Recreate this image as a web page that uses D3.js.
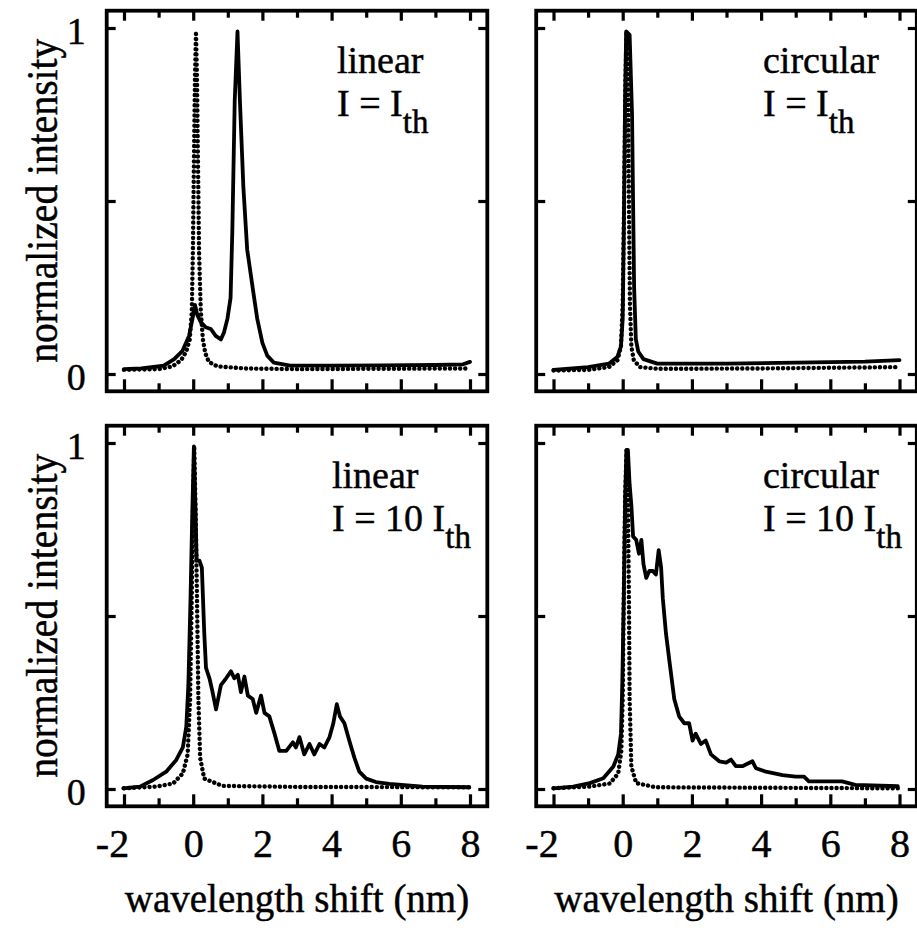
<!DOCTYPE html>
<html><head><meta charset="utf-8">
<script src="https://cdn.jsdelivr.net/npm/d3@7"></script>
<style>
html,body{margin:0;padding:0;background:#fff;}
svg{display:block;}
text{font-family:"Liberation Serif","Times New Roman",serif;fill:#000;stroke:#000;stroke-width:0.45px;}
</style></head><body>
<svg id="chart" width="917" height="941"></svg>
<script>
// ---------- data ----------
const xMajorTicks = [-2, 0, 2, 4, 6, 8];
const xMinorTicks = [-1, 1, 3, 5, 7];
const yTicks = [0, 0.5, 1];
const yTickLabels = ["0", "", "1"];
const xTitle = "wavelength shift (nm)";
const yTitle = "normalized intensity";
const polarizations = ["linear", "circular", "linear", "circular"];
const currents = ["I = I", "I = I", "I = 10 I", "I = 10 I"];
const currentSub = "th";

// linear polarization, I = Ith
const linIth_solid = [[-2.0,0.014],[-1.5,0.016],[-0.85,0.024],[-0.55,0.043],[-0.31,0.067],[-0.12,0.11],[-0.02,0.16],[0.05,0.20],[0.12,0.17],[0.22,0.15],[0.36,0.135],[0.51,0.13],[0.65,0.11],[0.8,0.10],[0.89,0.12],[0.99,0.16],[1.08,0.22],[1.13,0.41],[1.2,0.79],[1.28,0.99],[1.35,0.79],[1.45,0.54],[1.56,0.36],[1.71,0.255],[1.85,0.16],[2.0,0.09],[2.14,0.053],[2.33,0.033],[2.8,0.024],[4,0.024],[5.5,0.025],[7,0.026],[7.8,0.028],[8.0,0.035]];
const linIth_dotted = [[-2.0,0.012],[-1.0,0.014],[-0.6,0.022],[-0.35,0.04],[-0.2,0.065],[-0.1,0.1],[-0.04,0.18],[-0.01,0.35],[0.02,0.6],[0.05,0.85],[0.08,0.99],[0.11,0.85],[0.14,0.6],[0.17,0.35],[0.22,0.18],[0.28,0.1],[0.35,0.06],[0.45,0.035],[0.7,0.022],[1.5,0.016],[3,0.014],[5,0.015],[8,0.016]];

// circular polarization, I = Ith
const circIth_solid = [[-2,0.012],[-1,0.02],[-0.4,0.03],[-0.15,0.05],[-0.05,0.08],[0.0,0.16],[0.03,0.4],[0.07,0.8],[0.1,0.99],[0.2,0.98],[0.27,0.75],[0.3,0.5],[0.33,0.25],[0.38,0.1],[0.45,0.065],[0.6,0.043],[1,0.03],[3,0.03],[5,0.033],[7,0.036],[8,0.04]];
const circIth_dotted = [[-2,0.01],[-1,0.012],[-0.4,0.02],[-0.15,0.04],[-0.05,0.08],[0.0,0.2],[0.04,0.5],[0.08,0.85],[0.11,0.99],[0.15,0.85],[0.18,0.5],[0.21,0.2],[0.25,0.08],[0.32,0.04],[0.5,0.02],[1,0.015],[4,0.016],[8,0.02]];

// linear polarization, I = 10 Ith
const lin10_solid = [[-2.02,0.002],[-1.54,0.007],[-1.16,0.026],[-0.78,0.05],[-0.49,0.084],[-0.3,0.12],[-0.2,0.18],[-0.14,0.3],[-0.08,0.54],[-0.03,0.78],[0.02,0.99],[0.06,0.83],[0.1,0.66],[0.18,0.66],[0.25,0.64],[0.32,0.45],[0.37,0.35],[0.47,0.32],[0.56,0.28],[0.66,0.23],[0.8,0.3],[0.95,0.32],[1.09,0.34],[1.19,0.32],[1.29,0.33],[1.38,0.28],[1.48,0.325],[1.58,0.27],[1.72,0.26],[1.82,0.22],[1.96,0.27],[2.06,0.22],[2.2,0.21],[2.35,0.16],[2.49,0.11],[2.69,0.11],[2.88,0.135],[2.97,0.12],[3.07,0.15],[3.21,0.1],[3.36,0.13],[3.5,0.1],[3.65,0.13],[3.79,0.12],[3.94,0.15],[4.05,0.19],[4.15,0.245],[4.24,0.21],[4.37,0.19],[4.51,0.14],[4.66,0.09],[4.8,0.05],[5.0,0.03],[5.28,0.02],[5.67,0.015],[6.63,0.007],[7.98,0.005]];
const lin10_dotted = [[-2,0.002],[-1.06,0.007],[-0.58,0.016],[-0.3,0.045],[-0.16,0.1],[-0.09,0.26],[-0.05,0.5],[-0.01,0.8],[0.03,0.99],[0.07,0.8],[0.11,0.55],[0.15,0.26],[0.2,0.09],[0.32,0.03],[0.84,0.009],[3,0.006],[8,0.005]];

// circular polarization, I = 10 Ith
const circ10_solid = [[-2.0,0.002],[-1.43,0.007],[-0.95,0.017],[-0.56,0.031],[-0.27,0.065],[-0.13,0.1],[-0.05,0.16],[-0.01,0.31],[0.03,0.55],[0.07,0.84],[0.11,0.98],[0.15,0.98],[0.2,0.88],[0.25,0.82],[0.3,0.73],[0.39,0.72],[0.47,0.68],[0.54,0.72],[0.6,0.65],[0.68,0.61],[0.77,0.63],[0.87,0.63],[0.96,0.62],[1.04,0.69],[1.11,0.64],[1.16,0.55],[1.25,0.45],[1.35,0.37],[1.49,0.26],[1.63,0.21],[1.78,0.19],[1.92,0.19],[2.02,0.14],[2.11,0.16],[2.26,0.13],[2.4,0.14],[2.55,0.1],[2.79,0.08],[2.99,0.076],[3.13,0.085],[3.27,0.066],[3.46,0.066],[3.75,0.08],[3.85,0.06],[4.14,0.05],[4.62,0.04],[5.0,0.036],[5.24,0.036],[5.38,0.022],[5.77,0.022],[6.34,0.022],[6.72,0.012],[7.95,0.008]];
const circ10_dotted = [[-2.0,0.002],[-0.95,0.007],[-0.37,0.016],[-0.13,0.045],[-0.04,0.11],[0.0,0.26],[0.03,0.55],[0.07,0.84],[0.11,0.98],[0.15,0.84],[0.18,0.55],[0.2,0.26],[0.25,0.065],[0.39,0.017],[0.96,0.005],[7.95,0.002]];

const solidSeries = [linIth_solid, circIth_solid, lin10_solid, circ10_solid];
const dottedSeries = [linIth_dotted, circIth_dotted, lin10_dotted, circ10_dotted];

// ---------- layout ----------
const svg = d3.select("#chart");
const PW = 380.6, PH = 380.6;
const panelPos = [[106.7, 10.7], [536.2, 10.7], [106.7, 425.7], [536.2, 425.7]];
const annPos = [[337, 73], [763, 73], [332, 488], [763, 488]];
const SW = 3.8;

const x = d3.scaleLinear().domain([-2.5, 8.5]).range([0, PW]);
const y = d3.scaleLinear().domain([-0.05, 1.05]).range([PH, 0]);
const line = d3.line().x(d => x(d[0])).y(d => y(d[1]));

panelPos.forEach((p, i) => {
  const g = svg.append("g").attr("transform", `translate(${p[0]},${p[1]})`);
  const isBottom = i >= 2, isLeft = i % 2 === 0;

  // curves
  g.append("path").attr("d", line(dottedSeries[i]))
    .attr("fill", "none").attr("stroke", "#000").attr("stroke-width", 4.4)
    .attr("stroke-linecap", "round").attr("stroke-dasharray", "0.1 5");
  g.append("path").attr("d", line(solidSeries[i]))
    .attr("fill", "none").attr("stroke", "#000").attr("stroke-width", SW)
    .attr("stroke-linejoin", "round").attr("stroke-linecap", "round");

  // axes (inward ticks)
  const style = sel => {
    sel.select(".domain").remove();
    sel.selectAll(".tick line").attr("stroke", "#000").attr("stroke-width", 3.2);
  };
  g.append("g").attr("transform", `translate(0,${PH})`)
    .call(d3.axisBottom(x).tickValues(xMajorTicks).tickSize(-12).tickPadding(22)
      .tickFormat(d => isBottom ? String(d) : ""))
    .call(style)
    .call(s => s.selectAll("text").attr("font-size", 40)
      .attr("font-family", "Liberation Serif, Times New Roman, serif")
      .attr("dx", d => d < 0 ? "-0.3em" : 0));
  g.append("g").attr("transform", `translate(0,${PH})`)
    .call(d3.axisBottom(x).tickValues(xMinorTicks).tickSize(-8).tickFormat(""))
    .call(style);
  g.append("g")
    .call(d3.axisTop(x).tickValues(xMajorTicks).tickSize(-10).tickFormat(""))
    .call(style);
  g.append("g")
    .call(d3.axisTop(x).tickValues(xMinorTicks).tickSize(-7).tickFormat(""))
    .call(style);
  g.append("g")
    .call(d3.axisLeft(y).tickValues(yTicks).tickSize(-9).tickPadding(21)
      .tickFormat((d, k) => isLeft ? yTickLabels[k] : ""))
    .call(style)
    .call(s => s.selectAll("text").attr("font-size", 38).attr("dy", "0.42em")
      .attr("font-family", "Liberation Serif, Times New Roman, serif"));
  g.append("g").attr("transform", `translate(${PW},0)`)
    .call(d3.axisRight(y).tickValues(yTicks).tickSize(-9).tickFormat(""))
    .call(style);

  // frame
  g.append("rect").attr("x", 0).attr("y", 0).attr("width", PW).attr("height", PH)
    .attr("fill", "none").attr("stroke", "#000").attr("stroke-width", SW);

  // annotation
  const a = annPos[i];
  svg.append("text").attr("x", a[0]).attr("y", a[1]).attr("font-size", 38).text(polarizations[i]);
  const t = svg.append("text").attr("x", a[0]).attr("y", a[1] + 43).attr("font-size", 38);
  t.append("tspan").text(currents[i]);
  t.append("tspan").attr("font-size", 33).attr("dy", 17).text(currentSub);

  // titles
  if (isBottom) {
    svg.append("text").attr("x", p[0] + PW / 2).attr("y", 912)
      .attr("text-anchor", "middle").attr("font-size", 39).text(xTitle);
  }
  if (isLeft) {
    svg.append("text")
      .attr("transform", `translate(57,${p[1] + 190}) rotate(-90)`)
      .attr("text-anchor", "middle").attr("font-size", 44)
      .attr("textLength", 324).attr("lengthAdjust", "spacingAndGlyphs")
      .text(yTitle);
  }
});
</script>
</body></html>
